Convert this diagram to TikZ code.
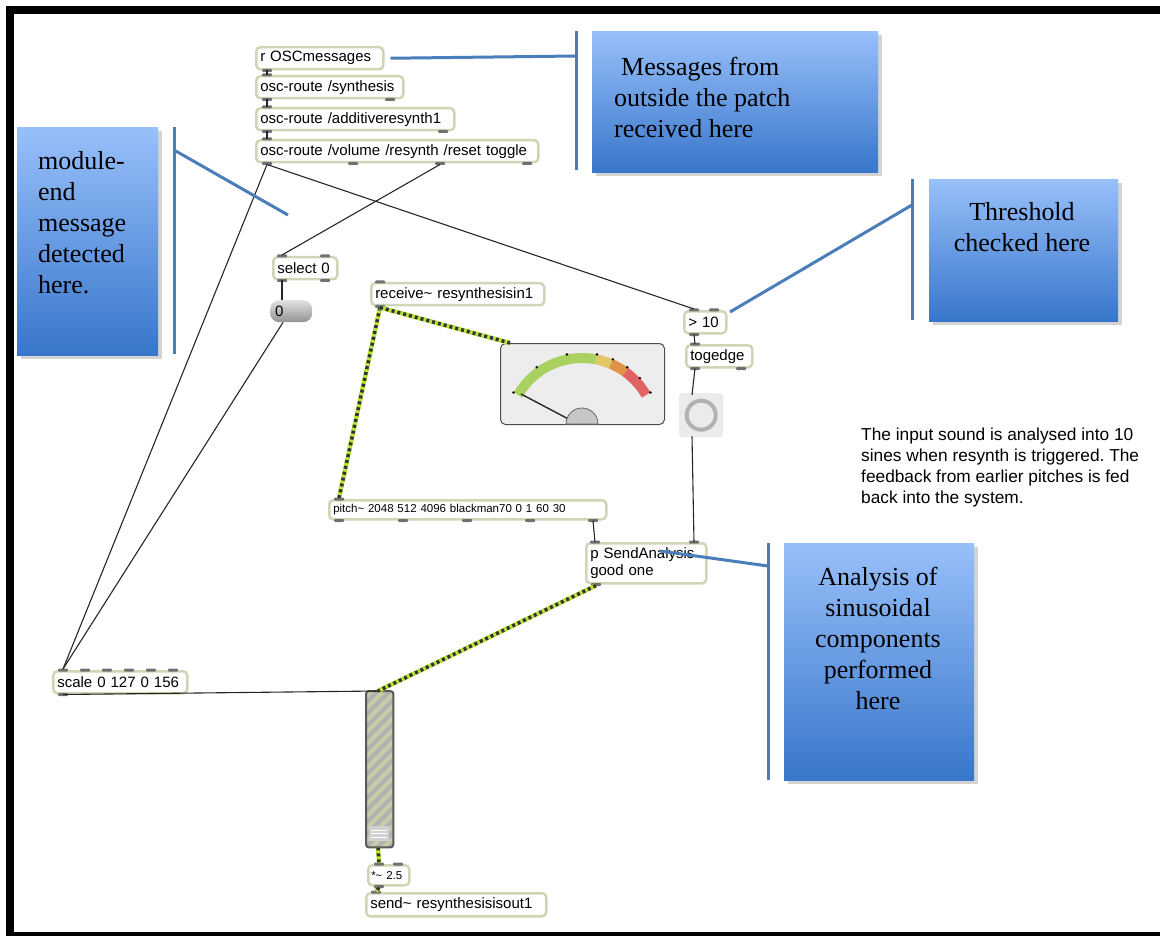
\documentclass[tikz,border=0pt]{standalone}
\usepackage{fontspec}
\setmainfont{Liberation Serif}
\newfontfamily\maxfont{Liberation Sans}
\usetikzlibrary{calc,shadows}
\frenchspacing
\definecolor{boxc}{RGB}{206,214,182}
\definecolor{portc}{RGB}{112,112,112}
\definecolor{sigc}{RGB}{185,228,60}
\definecolor{calb}{RGB}{74,126,187}
\definecolor{cbtop}{RGB}{152,192,250}
\definecolor{cbbot}{RGB}{56,118,202}
\definecolor{mgreen}{RGB}{170,208,96}
\definecolor{myellow}{RGB}{224,200,100}
\definecolor{morange}{RGB}{224,146,72}
\definecolor{mred}{RGB}{224,98,98}
\definecolor{sliderc}{RGB}{200,204,168}
\tikzset{
 maxbox/.style={draw=boxc, line width=2.5pt, rounded corners=4pt, fill=white, inner xsep=4pt, inner ysep=0pt, anchor=north west, align=left, font=\maxfont\fontsize{15}{17}\selectfont},
 smallbox/.style={maxbox, font=\maxfont\fontsize{11.5}{13}\selectfont},
 cord/.style={draw=black!85, line width=1.1pt},
 sigbase/.style={draw=sigc, line width=4.5pt},
 sigdash/.style={draw=black!80, line width=3.5pt, dash pattern=on 3pt off 3pt},
 callout/.style={anchor=north west, inner sep=0pt, top color=cbtop, bottom color=cbbot, draw=none, drop shadow={shadow xshift=4pt, shadow yshift=-4pt, opacity=.35}},
 calltext/.style={font=\fontsize{26}{31}\selectfont, inner sep=0pt},
 bracket/.style={draw=calb, line width=3pt},
}
\newcommand{\portT}[2]{\fill[portc, rounded corners=1pt] ($(#1.north west)+(#2,0)+(-5,-1.5)$) rectangle ++(10,3);}
\newcommand{\portB}[2]{\fill[portc, rounded corners=1pt] ($(#1.south west)+(#2,0)+(-5,-1.5)$) rectangle ++(10,3);}
\newcommand{\sigcord}[2]{\draw[sigbase] #1 -- #2; \draw[sigdash] #1 -- #2;}
\begin{document}
\begin{tikzpicture}[x=1pt,y=-1pt]
\useasboundingbox (0,0) rectangle (1160,936);
% frame
\fill[black] (6,6) rectangle (1160,14);
\fill[black] (6,6) rectangle (14,936);
\fill[black] (6,932) rectangle (1160,936);

% callouts
\node[callout, minimum width=286pt, minimum height=141pt] (cb1) at (592,31) {};
\node[callout, minimum width=141pt, minimum height=228pt] (cb2) at (17,127) {};
\node[callout, minimum width=189pt, minimum height=142pt] (cb3) at (929,179) {};
\node[callout, minimum width=190pt, minimum height=237pt] (cb4) at (784,543) {};
\node[calltext, anchor=north west, align=left] (t1) at (614,57) {\hspace*{7pt}Messages from\\outside the patch\\received here};
\node[calltext, anchor=north west, align=left] (t2) at (38,151) {module-\\end\\message\\detected\\here.};
\node[calltext, anchor=north, align=center] (t3) at (1022,202) {Threshold\\checked here};
\node[calltext, anchor=north, align=center] (t4) at (878,567) {Analysis of\\sinusoidal\\components\\performed\\here};

% max boxes
\node[maxbox, text width=119pt, minimum height=22pt] (osc) at (255,46) {r OSCmessages};
\node[maxbox, text width=139pt, minimum height=22pt] (syn) at (255,75) {osc-route /synthesis};
\node[maxbox, text width=190pt, minimum height=22pt] (add) at (255,107) {osc-route /additiveresynth1};
\node[maxbox, text width=274pt, minimum height=22pt] (vol) at (255,139) {osc-route /volume /resynth /reset toggle};
\node[maxbox, text width=56pt, minimum height=22pt] (sel) at (272,256) {select 0};
\node[anchor=north west, inner xsep=5pt, inner ysep=0pt, text width=32pt, minimum height=22pt, rounded corners=9pt, top color=black!12, bottom color=black!42, align=left, font=\maxfont\fontsize{15}{17}\selectfont] (zero) at (270,300) {0};
\node[maxbox, text width=165pt, minimum height=22pt] (rcv) at (370,282) {receive\textasciitilde{} resynthesisin1};
\node[maxbox, text width=34pt, minimum height=22pt] (gt) at (683,310) {> 10};
\node[maxbox, text width=58pt, minimum height=22pt] (tog) at (685,344) {togedge};
\node[smallbox, text width=269pt, minimum height=19pt] (pitch) at (328,499) {pitch\textasciitilde{} 2048 512 4096 blackman70 0 1 60 30};
\node[maxbox, text width=112pt, minimum height=40pt] (send) at (585,542) {p SendAnalysis\\good one};
\node[maxbox, text width=126pt, minimum height=22pt] (scale) at (52,670) {scale 0 127 0 156};
\node[smallbox, text width=35pt, minimum height=20pt, inner xsep=3pt] (mul) at (367,864) {*\textasciitilde{} 2.5};
\node[maxbox, text width=172pt, minimum height=23pt] (snd) at (365,892) {send\textasciitilde{} resynthesisisout1};

% meter
\node[draw=black!70, line width=1pt, fill=black!7, rounded corners=5pt, anchor=north west, minimum width=164pt, minimum height=81pt, inner sep=0pt] (meter) at (500,343) {};
\begin{scope}[shift={(582,432)}, yscale=-1]
\draw[mgreen, line width=10pt] (150:74) arc (150:79:74);
\draw[myellow, line width=10pt] (79:74) arc (79:67:74);
\draw[morange, line width=10pt] (67:74) arc (67:54:74);
\draw[mred, line width=10pt] (54:74) arc (54:30:74);
\foreach \a in {150,125,101,79,67,55,43,30} \fill[black] (\a:79) circle (1.4pt);
\end{scope}
\draw[black!85, line width=1.4pt] (521,394) -- (576,423);
\begin{scope}[shift={(582,424)}, yscale=-1]
\filldraw[fill=black!22, draw=black!60, line width=0.8pt] (-16,0) arc (180:0:16) -- cycle;
\end{scope}

% toggle
\node[fill=black!8, rounded corners=3pt, anchor=north west, minimum width=44pt, minimum height=44pt, inner sep=0pt] (togl) at (679,393) {};
\draw[black!30, line width=4pt] (togl.center) circle (14.5pt);

% slider
\node[fill=sliderc, rounded corners=3pt, anchor=north west, minimum width=27pt, minimum height=156pt, inner sep=0pt] (gain) at (366,691) {};
\begin{scope}
\clip[rounded corners=3pt] (gain.north west) rectangle (gain.south east);
\foreach \i in {0,...,16} \draw[black!30, line width=4pt] ($(gain.north west)+(0,\i*12)$) -- ++(30,-30);
\end{scope}
\draw[black!65, line width=2pt, rounded corners=3pt] (gain.north west) rectangle (gain.south east);
\fill[black!18] (369,826) rectangle (389,841);
\foreach \yy in {830,833.5,837} \draw[white, line width=1pt] (371,\yy) -- (387,\yy);

% ports
\portB{osc}{12}
\portT{syn}{12} \portB{syn}{12} \portB{syn}{135}
\portT{add}{12} \portB{add}{12} \portB{add}{188}
\portT{vol}{12} \portB{vol}{12} \portB{vol}{98} \portB{vol}{185} \portB{vol}{272}
\portT{sel}{10} \portT{sel}{53} \portB{sel}{10} \portB{sel}{53}
\portT{rcv}{10} \portB{rcv}{10}
\portT{gt}{11} \portT{gt}{31} \portB{gt}{11}
\portT{tog}{10} \portB{tog}{10} \portB{tog}{56}
\portT{pitch}{11} \portB{pitch}{11} \portB{pitch}{75} \portB{pitch}{139} \portB{pitch}{202} \portB{pitch}{265}
\portT{send}{10} \portT{send}{109} \portB{send}{11}
\foreach \k in {0,...,5} {\portT{scale}{11+\k*22}}
\portB{scale}{11}
\portT{mul}{12} \portT{mul}{31} \portB{mul}{12}
\portT{snd}{11}

% patch cords
\draw[cord] ($(osc.south west)+(12,0)$) -- ($(syn.north west)+(12,0)$);
\draw[cord] ($(syn.south west)+(12,0)$) -- ($(add.north west)+(12,0)$);
\draw[cord] ($(add.south west)+(12,0)$) -- ($(vol.north west)+(12,0)$);
\draw[cord] ($(vol.south west)+(12,1)$) -- ($(scale.north west)+(11,-1)$);
\draw[cord] ($(vol.south west)+(12,1)$) -- ($(gt.north west)+(11,-1)$);
\draw[cord] ($(vol.south west)+(185,1)$) -- ($(sel.north west)+(10,-1)$);
\draw[cord] ($(sel.south west)+(10,0)$) -- ($(zero.north west)+(12,0)$);
\draw[cord] ($(zero.south west)+(13,0)$) -- ($(scale.north west)+(11,-1)$);
\draw[cord] ($(scale.south west)+(11,0)$) -- ($(gain.north west)+(12,0)$);
\draw[cord] ($(gt.south west)+(11,0)$) -- ($(tog.north west)+(10,0)$);
\draw[cord] ($(tog.south west)+(10,0)$) -- ($(togl.north west)+(13,2)$);
\draw[cord] ($(togl.south west)+(13,-1)$) -- ($(send.north west)+(109,0)$);
\draw[cord] ($(pitch.south west)+(265,0)$) -- ($(send.north west)+(10,0)$);

% signal cords
\sigcord{($(rcv.south west)+(10,1)$)}{($(pitch.north west)+(11,-1)$)}
\sigcord{($(rcv.south west)+(10,1)$)}{($(meter.north west)+(10,0)$)}
\sigcord{($(send.south west)+(11,1)$)}{($(gain.north west)+(12,0)$)}
\sigcord{($(gain.south west)+(12,0)$)}{($(mul.north west)+(12,-1)$)}
\sigcord{($(mul.south west)+(12,1)$)}{($(snd.north west)+(11,-1)$)}

% comment
\node[anchor=north west, inner sep=0pt, align=left, font=\maxfont\fontsize{17.3}{21}\selectfont] (cmt) at (861,428) {The input sound is analysed into 10\\sines when resynth is triggered. The\\feedback from earlier pitches is fed\\back into the system.};

% callout brackets and pointers
\coordinate (b1t) at (576,31); \coordinate (b1b) at (576,170); \coordinate (b1p) at (576,56);
\coordinate (b2t) at (174,127); \coordinate (b2b) at (174,354); \coordinate (b2p) at (174,150); \coordinate (e2) at (288,215);
\coordinate (b3t) at (912,179); \coordinate (b3b) at (912,320); \coordinate (b3p) at (912,205); \coordinate (e3) at (730,312);
\coordinate (b4t) at (768,543); \coordinate (b4b) at (768,780); \coordinate (b4p) at (768,566); \coordinate (e4) at (660,551);
\draw[bracket] (b1t) -- (b1b);
\draw[bracket] (b2t) -- (b2b);
\draw[bracket] (b3t) -- (b3b);
\draw[bracket] (b4t) -- (b4b);
\draw[bracket] ($(osc.east)+(6,0)$) -- (b1p);
\draw[bracket] (b2p) -- (e2);
\draw[bracket] (b3p) -- (e3);
\draw[bracket] (b4p) -- (e4);
\end{tikzpicture}
\end{document}
